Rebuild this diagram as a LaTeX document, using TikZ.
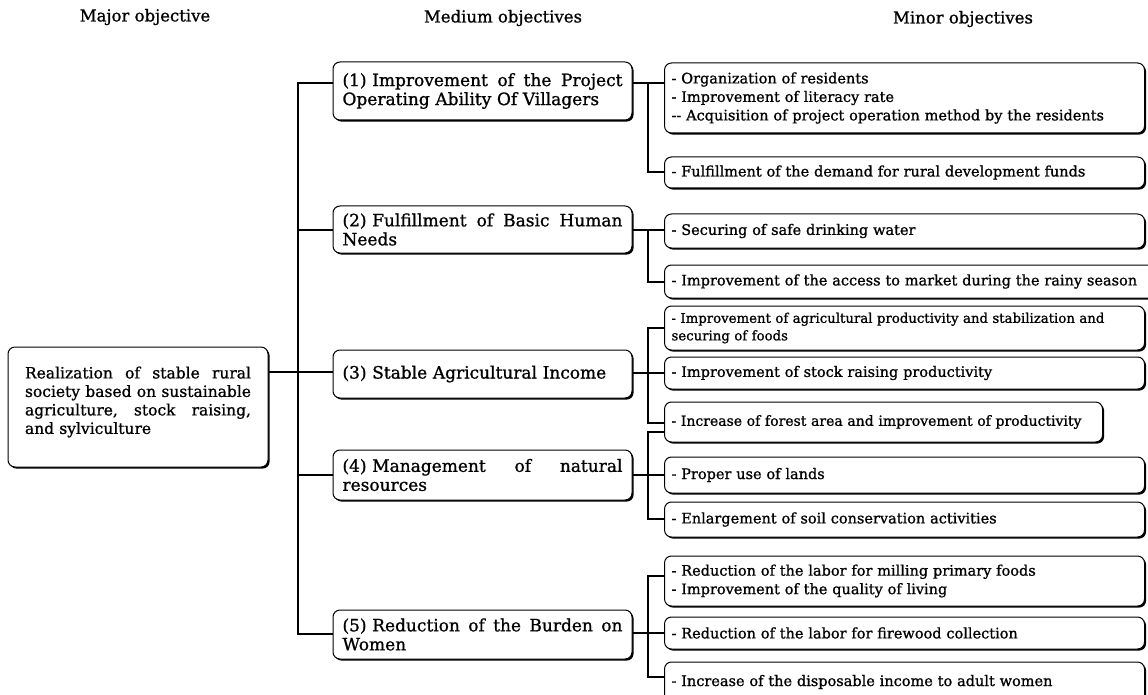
\documentclass[tikz,border=0pt]{standalone}
\usepackage{fontspec}
\setmainfont{DejaVu Serif}[FakeBold=1]
\usetikzlibrary{shadows}
\newcommand{\fillline}[2]{\leavevmode\hbox to #1{#2}}
\begin{document}
\begin{tikzpicture}[x=1pt,y=-1pt,
  box/.style={draw, line width=1pt, rounded corners=7pt, fill=white,
    general shadow={shadow xshift=1.6pt, shadow yshift=-1.6pt, fill=black}},
  conn/.style={line width=2.6pt, line join=miter},
  head/.style={font=\fontsize{16.5}{19}\selectfont},
  major/.style={box, align=left, text width=226pt, inner xsep=17pt, inner ysep=0pt,
    minimum width=260pt, minimum height=120pt, text depth=69pt,
    font=\fontsize{15.5}{18.5}\selectfont},
  med/.style={box, align=left, text width=280pt, inner xsep=9.5pt, inner ysep=0pt,
    minimum height=48pt, font=\fontsize{17}{19}\selectfont},
  minor/.style={box, anchor=west, align=left, inner xsep=7pt, inner ysep=0pt,
    font=\fontsize{14.5}{18.5}\selectfont}
]
\useasboundingbox (0,0) rectangle (1148,695);
\fill[white] (0,0) rectangle (1148,695);

% headings
\node[head] (h1) at (145,17) {Major objective};
\node[head] (h2) at (503,18) {Medium objectives};
\node[head] (h3) at (963,19) {Minor objectives};

% major objective
\node[major] (maj) at (138,407) {%
\fillline{226pt}{Realization \hfill of \hfill stable \hfill rural}\\
\fillline{226pt}{society \hfill based \hfill on \hfill sustainable}\\
\fillline{226pt}{agriculture, \hfill stock \hfill raising,}\\
and sylviculture};

% medium objectives
\node[med, minimum height=58pt] (m1) at (482.5,91) {%
\fillline{280pt}{(1) Improvement \hfill of \hfill the \hfill Project}\\
Operating Ability Of Villagers};
\node[med, minimum height=47pt] (m2) at (482.5,229.5) {%
\fillline{280pt}{(2) Fulfillment \hfill of \hfill Basic \hfill Human}\\
Needs};
\node[med, minimum height=48pt] (m3) at (482.5,374) {(3) Stable Agricultural Income};
\node[med, minimum height=50pt] (m4) at (482.5,475) {%
\fillline{280pt}{(4) Management \hfill of \hfill natural}\\
resources};
\node[med, minimum height=49pt] (m5) at (482.5,634.5) {%
\fillline{280pt}{(5) Reduction \hfill of \hfill the \hfill Burden \hfill on}\\
Women};

% minor objectives
\node[minor, text width=466pt, minimum height=70pt] (n1a) at (664,98) {%
- Organization of residents\\
- Improvement of literacy rate\\
-{}- Acquisition of project operation method by the residents};
\node[minor, text width=466pt, minimum height=31pt] (n1b) at (664,172.5) {- Fulfillment of the demand for rural development funds};
\node[minor, text width=466pt, minimum height=34pt] (n2a) at (664,231) {- Securing of safe drinking water};
\node[minor, text width=496pt, minimum height=33pt] (n2b) at (664,281.5) {- Improvement of the access to market during the rainy season};
\node[minor, text width=466pt, minimum height=44pt, font=\fontsize{13.3}{17.5}\selectfont] (n3a) at (664,328) {%
- Improvement of agricultural productivity and stabilization and\\
securing of foods};
\node[minor, text width=466pt, minimum height=32pt] (n3b) at (664,373) {- Improvement of stock raising productivity};
\node[minor, text width=424pt, minimum height=40pt, font=\fontsize{14}{18}\selectfont] (n3c) at (664,422) {- Increase of forest area and improvement of productivity};
\node[minor, text width=466pt, minimum height=36pt] (n4a) at (664,475) {- Proper use of lands};
\node[minor, text width=466pt, minimum height=35pt] (n4b) at (664,519.5) {- Enlargement of soil conservation activities};
\node[minor, text width=466pt, minimum height=50pt] (n5a) at (664,581) {%
- Reduction of the labor for milling primary foods\\
- Improvement of the quality of living};
\node[minor, text width=466pt, minimum height=32pt] (n5b) at (664,633) {- Reduction of the labor for firewood collection};
\node[minor, text width=466pt, minimum height=40pt] (n5c) at (664,682) {- Increase of the disposable income to adult women};

% main trunk
\coordinate (t1) at (298,83);
\coordinate (t2) at (298,230);
\coordinate (t3) at (298,372);
\coordinate (t4) at (298,475);
\coordinate (t5) at (298,634);
\draw[conn] (maj.east |- t3) -- (m3.west |- t3);
\draw[conn] (m1.west |- t1) -- (t1) -- (t5) -- (m5.west |- t5);
\draw[conn] (t2) -- (m2.west |- t2);
\draw[conn] (t4) -- (m4.west |- t4);

% group 1
\coordinate (a1) at (648,83);
\coordinate (a2) at (648,172);
\draw[conn] (m1.east |- a1) -- (n1a.west |- a1);
\draw[conn] (a1) -- (a2) -- (n1b.west |- a2);
% group 2
\coordinate (b1) at (648,230);
\coordinate (b2) at (648,282);
\draw[conn] (m2.east |- b1) -- (n2a.west |- b1);
\draw[conn] (b1) -- (b2) -- (n2b.west |- b2);
% group 3
\coordinate (c1) at (648,328);
\coordinate (c2) at (648,373);
\coordinate (c3) at (648,423);
\draw[conn] (n3a.west |- c1) -- (c1) -- (c3) -- (n3c.west |- c3);
\draw[conn] (m3.east |- c2) -- (n3b.west |- c2);
% group 4
\coordinate (d1) at (648,432);
\coordinate (d2) at (648,475);
\coordinate (d3) at (648,519);
\draw[conn] (n3c.west |- d1) -- (d1) -- (d3) -- (n4b.west |- d3);
\draw[conn] (m4.east |- d2) -- (n4a.west |- d2);
% group 5
\coordinate (e1) at (648,576);
\coordinate (e2) at (648,633);
\coordinate (e3) at (648,677);
\draw[conn] (n5a.west |- e1) -- (e1) -- (e3) -- (n5c.west |- e3);
\draw[conn] (m5.east |- e2) -- (n5b.west |- e2);
\end{tikzpicture}
\end{document}
